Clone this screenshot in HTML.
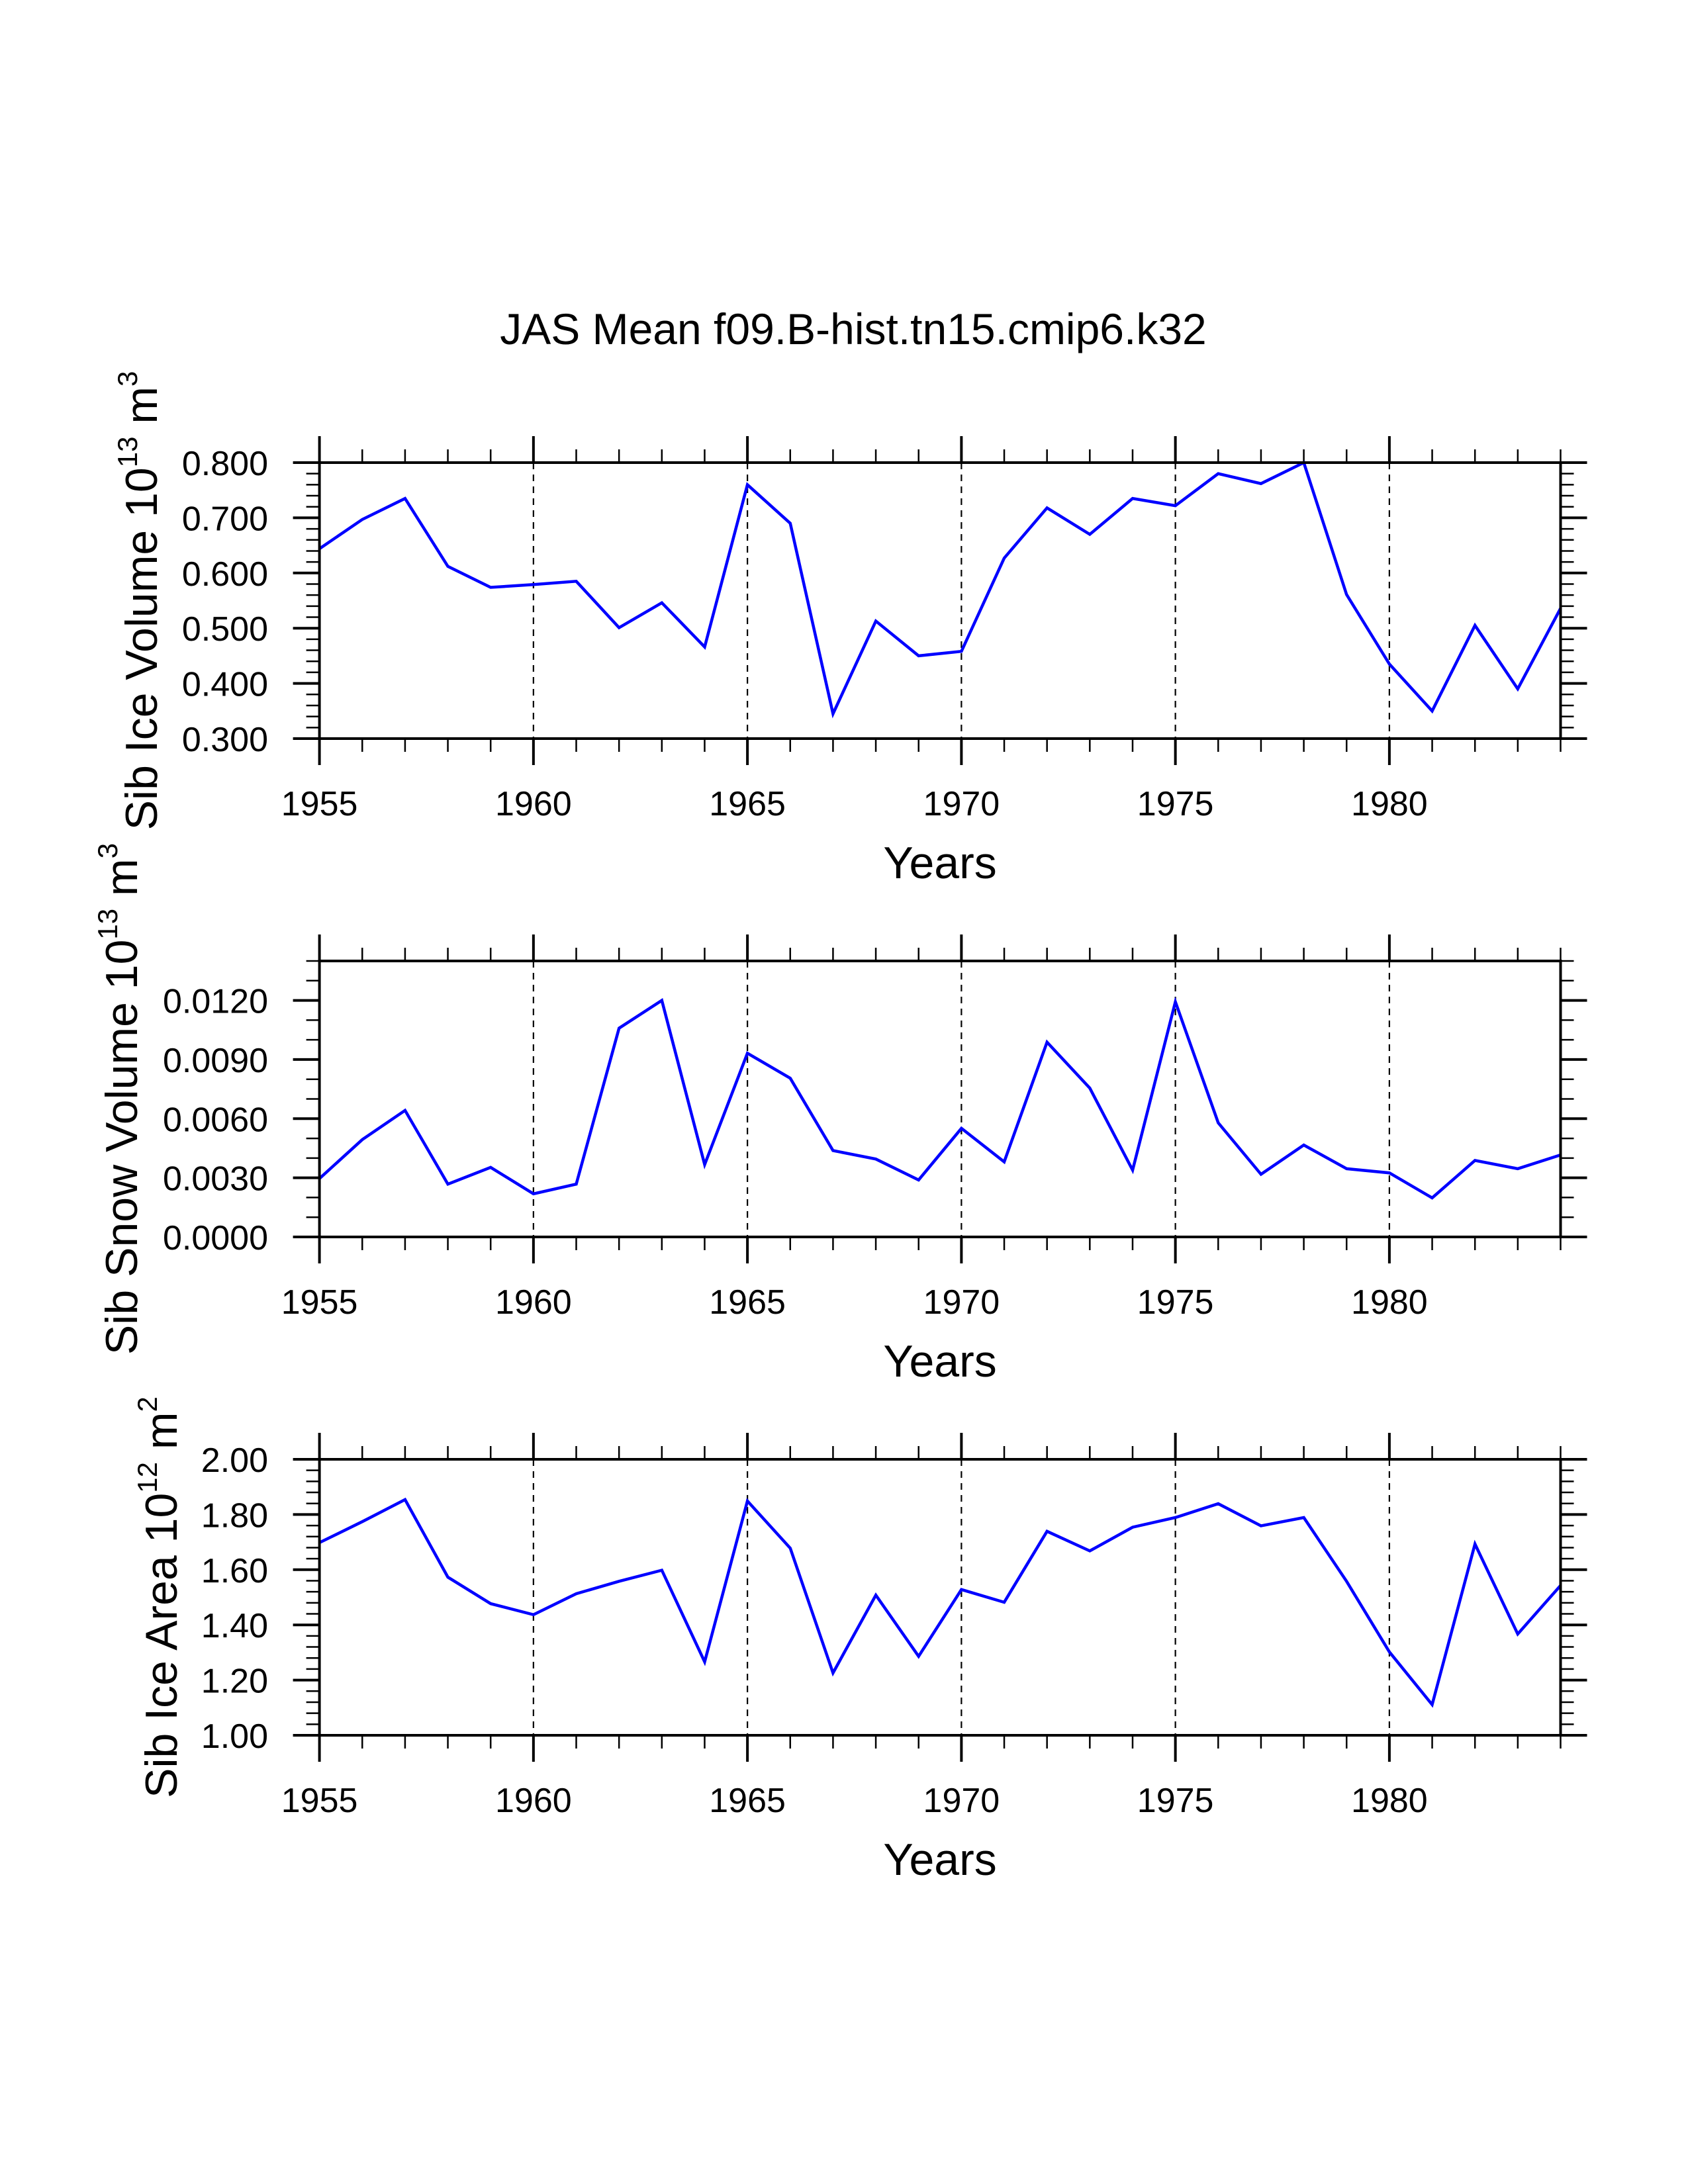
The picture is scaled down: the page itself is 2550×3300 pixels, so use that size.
<!DOCTYPE html>
<html><head><meta charset="utf-8">
<style>
html,body{margin:0;padding:0;background:#fff;}
svg{display:block;font-family:"Liberation Sans",Arial,sans-serif;}
</style></head>
<body>
<svg id="fig" width="2550" height="3300" viewBox="0 0 2550 3300" xmlns="http://www.w3.org/2000/svg">
<rect width="2550" height="3300" fill="#fff"/>
<text x="1289" y="520" font-size="66" text-anchor="middle">JAS Mean f09.B-hist.tn15.cmip6.k32</text>
</svg>
<script>
const years = [1955,1956,1957,1958,1959,1960,1961,1962,1963,1964,1965,1966,1967,1968,1969,1970,1971,1972,1973,1974,1975,1976,1977,1978,1979,1980,1981,1982,1983,1984];
const xTickLabels = [1955,1960,1965,1970,1975,1980];
const iceVolume = [0.644,0.697,0.735,0.612,0.574,0.579,0.585,0.501,0.546,0.466,0.760,0.690,0.345,0.513,0.450,0.458,0.627,0.718,0.670,0.735,0.722,0.780,0.762,0.800,0.561,0.435,0.350,0.505,0.390,0.536];
const snowVolume = [0.00296,0.00494,0.00642,0.00268,0.00353,0.00219,0.00268,0.01059,0.0120,0.00367,0.00932,0.00805,0.00438,0.00395,0.00289,0.00551,0.00381,0.00988,0.00755,0.00339,0.01193,0.00579,0.00318,0.00466,0.00346,0.00325,0.00198,0.00388,0.00346,0.00416];
const iceArea = [1.698,1.774,1.854,1.573,1.477,1.437,1.513,1.558,1.598,1.266,1.849,1.678,1.226,1.508,1.286,1.528,1.482,1.739,1.668,1.754,1.789,1.839,1.759,1.789,1.558,1.302,1.111,1.693,1.367,1.543];
const iceVolTicks = ["0.300","0.400","0.500","0.600","0.700","0.800"];
const snowTicks = ["0.0000","0.0030","0.0060","0.0090","0.0120"];
const areaTicks = ["1.00","1.20","1.40","1.60","1.80","2.00"];

const NS="http://www.w3.org/2000/svg";
const svg=document.getElementById('fig');
const XL=482.6, XR=2357.5, H=417;
function el(tag,attrs,parent){const e=document.createElementNS(NS,tag);for(const k in attrs)e.setAttribute(k,attrs[k]);(parent||svg).appendChild(e);return e;}
function xs(yr){return XL+(yr-years[0])*(XR-XL)/(years[years.length-1]-years[0]);}

function panel(cfg){
  const g=el('g',{});
  
  
  const top=cfg.top, bot=top+H;
  const ys=v=>bot-(v-cfg.ymin)/(cfg.ymax-cfg.ymin)*H;
  xTickLabels.slice(1).forEach(yr=>{
    const l=el('line',{x1:xs(yr),x2:xs(yr),y1:top,y2:bot,stroke:'#000','stroke-width':2.2,'stroke-dasharray':'10,8'},g);
    
    
  });
  years.forEach(yr=>{
    const major=(yr%5===0), len=major?40:20, w=major?4:2.5;
    el('line',{x1:xs(yr),x2:xs(yr),y1:bot,y2:bot+len,stroke:'#000','stroke-width':w},g);
    el('line',{x1:xs(yr),x2:xs(yr),y1:top,y2:top-len,stroke:'#000','stroke-width':w},g);
  });
  for(let v=cfg.ymin;v<=cfg.ymax+1e-9;v+=cfg.minor){
    const isMajor=Math.abs(((v-cfg.ymin)/cfg.major)-Math.round((v-cfg.ymin)/cfg.major))<1e-6;
    const len=isMajor?40:20,w=isMajor?4:2.5,y=ys(v);
    el('line',{x1:XL,x2:XL-len,y1:y,y2:y,stroke:'#000','stroke-width':w},g);
    el('line',{x1:XR,x2:XR+len,y1:y,y2:y,stroke:'#000','stroke-width':w},g);
  }
  cfg.labels.forEach((lab,i)=>{
    const t=el('text',{x:405,y:ys(cfg.ymin+i*cfg.major)+19,'font-size':52,'text-anchor':'end'},g);
    t.textContent=lab;
    
    
  });
  xTickLabels.forEach(yr=>{
    const t=el('text',{x:xs(yr),y:bot+116,'font-size':52,'text-anchor':'middle'},g);
    t.textContent=yr;
    
    
  });
  const xt=el('text',{x:(XL+XR)/2,y:bot+211,'font-size':68,'text-anchor':'middle'},g);
  xt.textContent='Years';
  
  
  const cy=(top+bot)/2;
  const yt=el('text',{transform:`translate(${cfg.titleX},${cy}) rotate(-90)`,'font-size':68,'text-anchor':'middle'},g);
  
  
  const a=el('tspan',{},yt); a.textContent=cfg.title+' 10';
  const b=el('tspan',{dy:-30,'font-size':42},yt); b.textContent=cfg.exp;
  const c=el('tspan',{dy:30,'font-size':68},yt); c.textContent=' m';
  const d=el('tspan',{dy:-30,'font-size':42},yt); d.textContent=cfg.unitExp;
  const pts=cfg.data.map((v,i)=>xs(years[i]).toFixed(1)+','+ys(v).toFixed(1)).join(' ');
  const pl=el('polyline',{points:pts,fill:'none',stroke:'#0000ff','stroke-width':4.5,'stroke-linejoin':'miter'},g);
  
  
  el('rect',{x:XL,y:top,width:XR-XL,height:H,fill:'none',stroke:'#000','stroke-width':4},g);
}
panel({name:'ice-volume-panel',top:699,ymin:0.3,ymax:0.8,major:0.1,minor:0.02,labels:iceVolTicks,data:iceVolume,title:'Sib Ice Volume',exp:'13',unitExp:'3',titleX:237});
panel({name:'snow-volume-panel',top:1452,ymin:0,ymax:0.014,major:0.003,minor:0.001,labels:snowTicks,data:snowVolume,title:'Sib Snow Volume',exp:'13',unitExp:'3',titleX:207});
panel({name:'ice-area-panel',top:2205,ymin:1.0,ymax:2.0,major:0.2,minor:0.04,labels:areaTicks,data:iceArea,title:'Sib Ice Area',exp:'12',unitExp:'2',titleX:267});
</script>
</body></html>
